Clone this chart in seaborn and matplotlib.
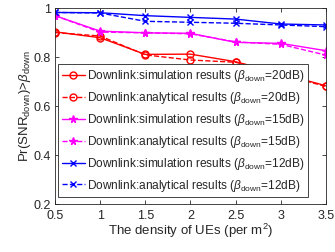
import numpy as np
import pandas as pd
import matplotlib
matplotlib.use("Agg")
import matplotlib.pyplot as plt
import seaborn as sns

density = [0.5, 1.0, 1.5, 2.0, 2.5, 3.0, 3.5]
sim_20 = [0.903, 0.879, 0.811, 0.812, 0.781, 0.733, 0.683]
ana_20 = [0.900, 0.886, 0.809, 0.788, 0.779, 0.730, 0.680]
sim_15 = [0.969, 0.906, 0.899, 0.897, 0.860, 0.856, 0.826]
ana_15 = [0.969, 0.902, 0.899, 0.895, 0.862, 0.852, 0.808]
sim_12 = [0.982, 0.981, 0.969, 0.962, 0.955, 0.935, 0.931]
ana_12 = [0.982, 0.980, 0.946, 0.942, 0.938, 0.931, 0.924]

labels = [
    r"Downlink:simulation results ($\beta_{\mathrm{down}}$=20dB)",
    r"Downlink:analytical results ($\beta_{\mathrm{down}}$=20dB)",
    r"Downlink:simulation results ($\beta_{\mathrm{down}}$=15dB)",
    r"Downlink:analytical results ($\beta_{\mathrm{down}}$=15dB)",
    r"Downlink:simulation results ($\beta_{\mathrm{down}}$=12dB)",
    r"Downlink:analytical results ($\beta_{\mathrm{down}}$=12dB)",
]
series = [sim_20, ana_20, sim_15, ana_15, sim_12, ana_12]
colors = ["#ff0000", "#ff0000", "#ff00ff", "#ff00ff", "#0000ff", "#0000ff"]
styles = ["-", "--", "-", "--", "-", "--"]
markers = ["o", "o", "*", "*", "x", "x"]
msizes = [5, 5, 5.5, 5.5, 4, 4]

xticks = [0.5, 1, 1.5, 2, 2.5, 3, 3.5]
xticklabels = ["0.5", "1", "1.5", "2", "2.5", "3", "3.5"]
yticks = [0.2, 0.4, 0.6, 0.8, 1.0]
yticklabels = ["0.2", "0.4", "0.6", "0.8", "1"]

sns.set_theme(style="ticks")
plt.rcParams["font.family"] = ["Liberation Sans", "DejaVu Sans"]
plt.rcParams["mathtext.fontset"] = "custom"
plt.rcParams["mathtext.rm"] = "Liberation Sans"
plt.rcParams["mathtext.it"] = "Liberation Sans:italic"
plt.rcParams["mathtext.bf"] = "Liberation Sans:bold"

fig = plt.figure(figsize=(3.35, 2.52), dpi=100)
ax = fig.add_axes([0.164, 0.19, 0.809, 0.778])

for vals, lab, c, ls, mk, ms in zip(series, labels, colors, styles, markers, msizes):
    df = pd.DataFrame({"density": density, "prob": vals})
    sns.lineplot(data=df, x="density", y="prob", ax=ax, color=c, linestyle=ls,
                 marker=mk, markersize=ms,
                 markerfacecolor="none" if mk == "o" else c,
                 markeredgecolor=c, markeredgewidth=1.0, linewidth=1.0,
                 label=lab)

ax.set_xlim(0.5, 3.5)
ax.set_ylim(0.2, 1.0)
ax.set_xticks(xticks)
ax.set_xticklabels(xticklabels)
ax.set_yticks(yticks)
ax.set_yticklabels(yticklabels)
ax.tick_params(direction="in", top=True, right=True, length=3, width=0.6,
               labelsize=9.0, colors="#262626")
ax.tick_params(axis="x", pad=4)
ax.tick_params(axis="y", pad=3)
for s in ax.spines.values():
    s.set_linewidth(0.6)
    s.set_color("#262626")

ax.set_xlabel(r"The density of UEs (per m$^2$)", fontsize=9.5, color="#262626", labelpad=0)
ax.set_ylabel(r"Pr(SNR$_{\mathrm{down}}$)>$\beta_{\mathrm{down}}$", fontsize=9.5,
              color="#262626", labelpad=0)

leg = ax.legend(loc="lower left", bbox_to_anchor=(0.013, 0.035), fontsize=8.6,
                frameon=True, fancybox=False, framealpha=1, edgecolor="#262626",
                handlelength=1.9, handletextpad=0.2, borderpad=0.3,
                labelspacing=0.5, borderaxespad=0)
leg.get_frame().set_linewidth(0.6)

fig.savefig("out.png", dpi=100)
